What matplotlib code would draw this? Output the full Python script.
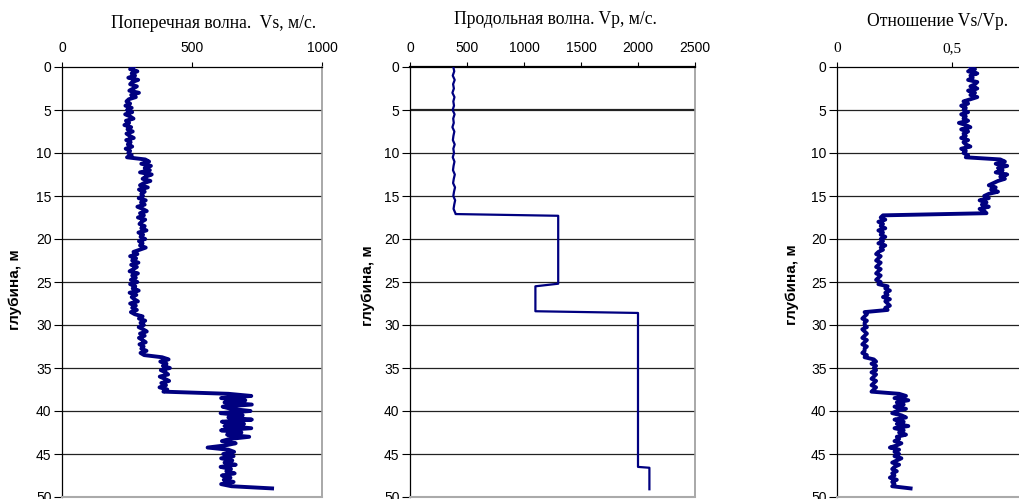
import numpy as np
import matplotlib
matplotlib.use('Agg')
import matplotlib.pyplot as plt

# Глубина с шагом 0.25 м (0 ... 49 м)
depth = np.arange(0, 49.01, 0.25)

# Поперечная волна Vs, м/с
vs = [
    275, 262, 290, 268, 281, 255, 293, 270, 262, 288, 274, 259, 296, 266, 284, 257, 248, 262, 244, 268,
    250, 270, 243, 262, 275, 246, 258, 240, 266, 252, 272, 248, 260, 276, 247, 264, 253, 270, 245, 262,
    255, 268, 250, 320, 335, 305, 342, 318, 338, 300, 345, 322, 310, 340, 315, 300, 330, 296, 318, 305,
    312, 295, 322, 304, 318, 290, 310, 326, 300, 315, 292, 320, 306, 298, 318, 305, 325, 294, 312, 302,
    320, 296, 310, 300, 322, 298, 275, 290, 262, 285, 270, 294, 266, 288, 275, 260, 292, 270, 284, 265,
    290, 262, 282, 272, 295, 260, 286, 268, 278, 292, 262, 284, 270, 288, 265, 280, 310, 296, 320, 302,
    315, 295, 312, 326, 300, 318, 296, 310, 322, 298, 314, 305, 325, 302, 316, 385, 410, 378, 402, 388,
    415, 380, 398, 408, 376, 395, 412, 382, 400, 375, 405, 390, 640, 728, 612, 705, 625, 730, 618, 650,
    725, 610, 695, 640, 730, 615, 700, 625, 728, 612, 690, 635, 720, 645, 615, 668, 628, 560, 640, 662,
    620, 660, 612, 655, 625, 668, 610, 650, 632, 664, 615, 648, 622, 660, 612, 652, 808,
]

# Отношение Vs/Vp
ratio = [
    0.58, 0.60, 0.57, 0.61, 0.58, 0.59, 0.57, 0.61, 0.60, 0.58, 0.61, 0.57, 0.60, 0.58, 0.61, 0.58, 0.55, 0.57, 0.54, 0.56,
    0.55, 0.57, 0.54, 0.56, 0.55, 0.57, 0.53, 0.56, 0.58, 0.54, 0.57, 0.55, 0.56, 0.54, 0.57, 0.55, 0.56, 0.58, 0.54, 0.56,
    0.55, 0.57, 0.56, 0.71, 0.73, 0.69, 0.74, 0.70, 0.72, 0.69, 0.74, 0.71, 0.73, 0.70, 0.68, 0.66, 0.69, 0.67, 0.70, 0.66,
    0.64, 0.66, 0.62, 0.65, 0.63, 0.66, 0.62, 0.64, 0.65, 0.20, 0.19, 0.21, 0.18, 0.20, 0.19, 0.21, 0.18, 0.20, 0.19, 0.21,
    0.19, 0.20, 0.18, 0.21, 0.19, 0.20, 0.18, 0.17, 0.19, 0.18, 0.17, 0.19, 0.18, 0.17, 0.19, 0.18, 0.17, 0.19, 0.18, 0.17,
    0.19, 0.18, 0.22, 0.21, 0.23, 0.21, 0.22, 0.20, 0.23, 0.21, 0.22, 0.23, 0.21, 0.22, 0.12, 0.13, 0.12, 0.11, 0.13, 0.12,
    0.12, 0.13, 0.11, 0.12, 0.13, 0.12, 0.11, 0.13, 0.12, 0.11, 0.13, 0.12, 0.12, 0.11, 0.13, 0.12, 0.16, 0.17, 0.15, 0.17,
    0.16, 0.17, 0.15, 0.17, 0.16, 0.15, 0.17, 0.16, 0.15, 0.17, 0.16, 0.15, 0.27, 0.30, 0.25, 0.31, 0.26, 0.29, 0.25, 0.30,
    0.26, 0.24, 0.28, 0.30, 0.25, 0.29, 0.26, 0.31, 0.25, 0.29, 0.27, 0.30, 0.26, 0.27, 0.25, 0.28, 0.26, 0.23, 0.27, 0.25,
    0.27, 0.25, 0.28, 0.26, 0.24, 0.27, 0.25, 0.24, 0.26, 0.24, 0.25, 0.23, 0.26, 0.24, 0.25, 0.24, 0.32,
]

# Продольная волна Vp, м/с: верхний слой с шагом 0.5 м, ниже - точки перегиба
vp_top_depth = np.arange(0, 17.01, 0.5)
vp_top = [380, 388, 375, 392, 378, 385, 372, 390, 380, 386, 374, 391, 379, 384, 372, 389, 381, 376,
          392, 380, 386, 375, 390, 382, 377, 393, 384, 378, 395, 386, 380, 396, 388, 382, 398]
vp_break_depth = [17.1, 17.3, 25.2, 25.5, 28.4, 28.6, 46.5, 46.6, 49.1]
vp_break = [400, 1300, 1300, 1100, 1100, 2000, 2000, 2100, 2100]
vp_depth = np.concatenate([vp_top_depth, vp_break_depth])
vp = vp_top + vp_break

depth_ticks = list(range(0, 51, 5))
line_color = '#000080'

W, H = 1020, 499
fig = plt.figure(figsize=(W / 100, H / 100), dpi=100)


def px_axes(left, right, top=67, bottom=497):
    return fig.add_axes([left / W, (H - bottom) / H, (right - left) / W, (bottom - top) / H])


def style_axes(ax, xlim, xticks, xlabels, serif_x=False, heavy_top=False):
    ax.set_ylim(50, 0)
    ax.set_xlim(*xlim)
    ax.set_yticks(depth_ticks)
    ax.set_yticklabels([str(t) for t in depth_ticks], family='Liberation Sans', fontsize=10)
    ax.xaxis.tick_top()
    ax.set_xticks(xticks)
    ax.set_xticklabels(xlabels, family='Liberation Serif' if serif_x else 'Liberation Sans',
                       fontsize=11 if serif_x else 10)
    ax.tick_params(axis='y', direction='out', length=5.5, width=0.8, pad=2)
    ax.tick_params(axis='x', direction='out', length=3.5, width=0.8, pad=5)
    for d in depth_ticks[1:-1]:
        lw = 1.6 if (heavy_top and d == 5) else 0.9
        ax.axhline(d, color='#222222', lw=lw, zorder=1)
    ax.spines['left'].set_color('black')
    ax.spines['top'].set_color('black')
    ax.spines['top'].set_linewidth(1.6 if heavy_top else 0.9)
    ax.spines['left'].set_linewidth(0.9)
    ax.spines['right'].set_color('#999999')
    ax.spines['bottom'].set_color('#aaaaaa')
    ax.spines['right'].set_linewidth(1.2)
    ax.spines['bottom'].set_linewidth(1.5)


# Поперечная волна
ax1 = px_axes(62, 322)
style_axes(ax1, (0, 1000), [0, 500, 1000], ['0', '500', '1000'])
ax1.plot(vs, depth, color=line_color, lw=2.8, zorder=3)

# Продольная волна
ax2 = px_axes(410, 695)
style_axes(ax2, (0, 2500), [0, 500, 1000, 1500, 2000, 2500],
           ['0', '500', '1000', '1500', '2000', '2500'], heavy_top=True)
ax2.plot(vp, vp_depth, color=line_color, lw=1.6, zorder=3)

# Отношение Vs/Vp (правый край оси уходит за пределы рисунка)
ax3 = px_axes(837, 1067)
style_axes(ax3, (0, 1), [0, 0.5], ['0', '0,5'], serif_x=True)
ax3.plot(ratio, depth, color=line_color, lw=2.8, zorder=3)

# Заголовки
titles = [('Поперечная волна.  Vs, м/с.', 214, 23),
          ('Продольная волна. Vp, м/с.', 555, 20),
          ('Отношение Vs/Vp.', 938, 22)]
for text, x, y in titles:
    fig.text(x / W, 1 - y / H, text, ha='center', va='center',
             family='Liberation Serif', fontsize=12.7)

# Подписи оси глубины
for x, y in [(15, 290), (368, 286), (792, 285)]:
    fig.text(x / W, 1 - y / H, 'глубина, м', rotation=90, ha='center', va='center',
             family='Liberation Sans', fontweight='bold', fontsize=11)

fig.savefig('out.png', dpi=100)
